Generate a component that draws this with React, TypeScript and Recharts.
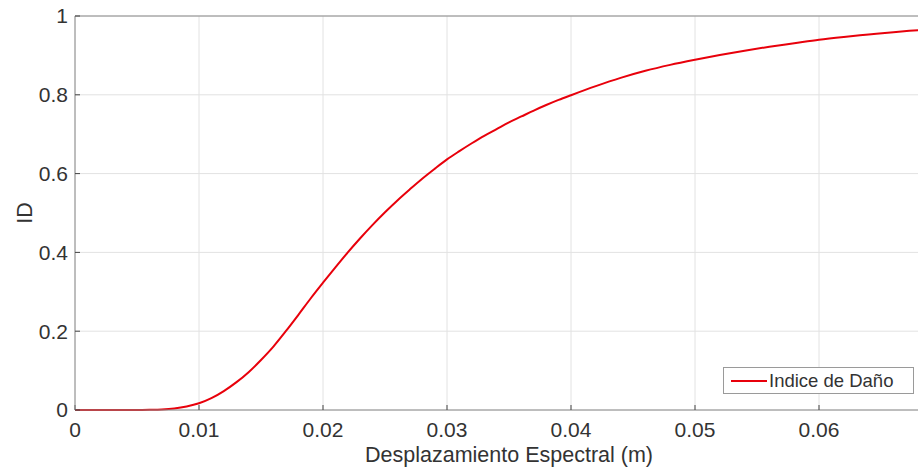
import React from "react";
import {
  LineChart,
  Line,
  XAxis,
  YAxis,
  CartesianGrid,
  Legend,
} from "recharts";

// desplazamiento espectral (m) y su indice de daño
const desplazamiento = [
  0, 0.001, 0.002, 0.003, 0.004, 0.005, 0.006, 0.007, 0.008, 0.009,
  0.01, 0.011, 0.012, 0.013, 0.014, 0.015, 0.016, 0.017, 0.018, 0.019,
  0.02, 0.021, 0.022, 0.023, 0.024, 0.025, 0.026, 0.027, 0.028, 0.029,
  0.03, 0.031, 0.032, 0.033, 0.034, 0.035, 0.036, 0.037, 0.038, 0.039,
  0.04, 0.042, 0.044, 0.046, 0.048, 0.05, 0.052, 0.054, 0.056, 0.058,
  0.06, 0.062, 0.064, 0.066, 0.068, 0.07,
];
const indiceDano = [
  0, 0, 0, 0, 0, 0, 0.0005, 0.0015, 0.004, 0.009,
  0.017, 0.03, 0.048, 0.07, 0.096, 0.127, 0.161, 0.2, 0.241, 0.283,
  0.323, 0.362, 0.4, 0.436, 0.47, 0.502, 0.532, 0.56, 0.587, 0.612,
  0.636, 0.657, 0.677, 0.696, 0.713, 0.73, 0.745, 0.76, 0.774, 0.787,
  0.799, 0.822, 0.843, 0.861, 0.876, 0.889, 0.901, 0.912, 0.922, 0.931,
  0.94, 0.947, 0.953, 0.959, 0.964, 0.969,
];

const xTicks = [0, 0.01, 0.02, 0.03, 0.04, 0.05, 0.06];
const yTicks = [0, 0.2, 0.4, 0.6, 0.8, 1];

const data = desplazamiento.map((x, i) => ({ x, id: indiceDano[i] }));

const font = "'Liberation Sans', Arial, Helvetica, sans-serif";
const axisColor = "#8a8a8a";
const textColor = "#333333";
const red = "#e8000b";

function LegendBox() {
  return (
    <div
      style={{
        boxSizing: "border-box",
        width: 191,
        height: 27,
        border: "1px solid #9a9a9a",
        background: "#fff",
        display: "flex",
        alignItems: "center",
        fontFamily: font,
        fontSize: 18.5,
        color: textColor,
      }}
    >
      <svg width={44} height={10} style={{ marginLeft: 6 }}>
        <line x1={1} y1={5} x2={37} y2={5} stroke={red} strokeWidth={2} />
      </svg>
      <span style={{ marginLeft: -5 }}>Indice de Daño</span>
    </div>
  );
}

export default function App() {
  return (
    <div
      style={{
        position: "fixed",
        left: 0,
        top: 0,
        width: 918,
        height: 470,
        overflow: "hidden",
        background: "#fff",
      }}
    >
      <LineChart
        width={950}
        height={470}
        data={data}
        margin={{ top: 0, right: 7, bottom: 0, left: 0 }}
        style={{ fontFamily: font }}
      >
        <CartesianGrid stroke="#e2e2e2" strokeWidth={1} />
        <XAxis
          xAxisId="top"
          orientation="top"
          dataKey="x"
          type="number"
          domain={[0, 0.07]}
          ticks={xTicks}
          height={16}
          tick={false}
          tickSize={-5}
          axisLine={{ stroke: axisColor }}
          tickLine={{ stroke: "#444" }}
        />
        <XAxis
          dataKey="x"
          type="number"
          domain={[0, 0.07]}
          ticks={xTicks}
          height={60}
          tickSize={-5}
          tickMargin={17}
          tickFormatter={(v: number) => String(v)}
          tick={{ fill: textColor, fontSize: 21 }}
          axisLine={{ stroke: axisColor }}
          tickLine={{ stroke: "#444" }}
          label={{
            value: "Desplazamiento Espectral (m)",
            position: "insideBottom",
            offset: 8,
            fill: textColor,
            fontSize: 21.5,
          }}
        />
        <YAxis
          type="number"
          domain={[0, 1]}
          ticks={yTicks}
          width={75}
          tickSize={-5}
          tickMargin={12}
          tickFormatter={(v: number) => String(v)}
          tick={{ fill: textColor, fontSize: 21 }}
          axisLine={{ stroke: axisColor }}
          tickLine={{ stroke: "#444" }}
          label={{
            value: "ID",
            angle: -90,
            position: "insideLeft",
            offset: 24,
            fill: textColor,
            fontSize: 21.5,
            style: { textAnchor: "middle" },
          }}
        />
        <Legend
          layout="vertical"
          align="center"
          verticalAlign="middle"
          content={() => <LegendBox />}
          wrapperStyle={{ left: 723, top: 367, width: 191 }}
        />
        <Line
          type="monotone"
          dataKey="id"
          name="Indice de Daño"
          stroke={red}
          strokeWidth={2}
          dot={false}
          isAnimationActive={false}
        />
      </LineChart>
    </div>
  );
}
